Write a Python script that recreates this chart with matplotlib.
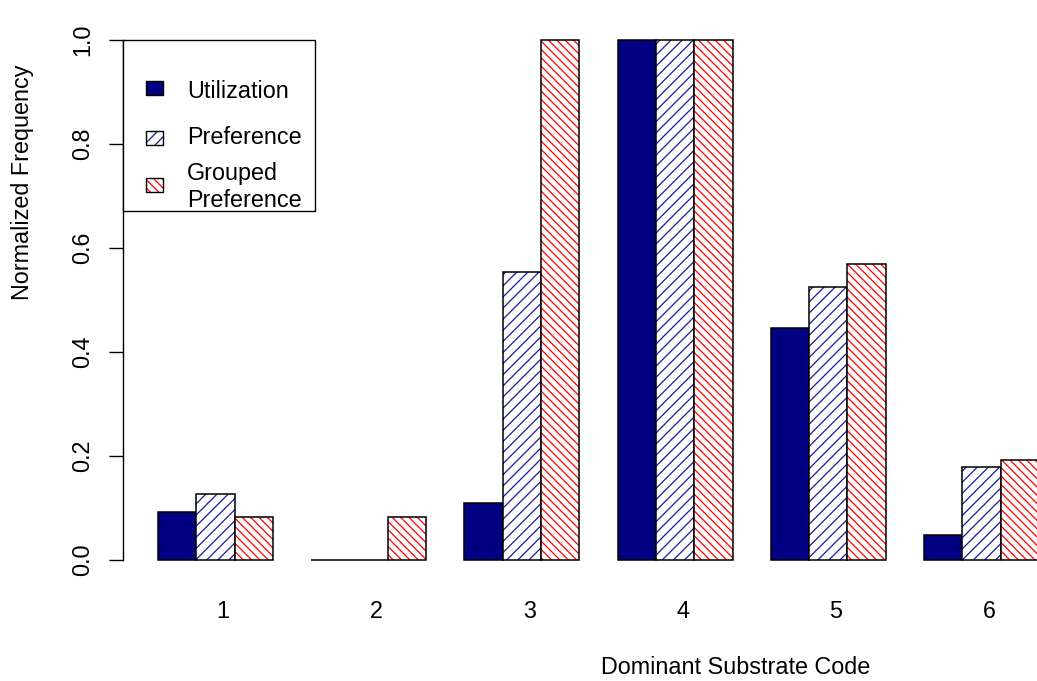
import matplotlib
matplotlib.use("Agg")
import matplotlib.pyplot as plt
from matplotlib.patches import Rectangle
import numpy as np

# ---- data ----
categories = ["1", "2", "3", "4", "5", "6"]
utilization = [0.092, 0.0, 0.110, 1.0, 0.446, 0.049]
preference = [0.127, 0.0, 0.554, 1.0, 0.525, 0.179]
grouped_preference = [0.083, 0.083, 1.0, 1.0, 0.569, 0.193]
series_names = ["Utilization", "Preference", "Grouped\nPreference"]
yticks = [0.0, 0.2, 0.4, 0.6, 0.8, 1.0]

plt.rcParams['font.family'] = ['Liberation Sans', 'DejaVu Sans']
plt.rcParams['hatch.linewidth'] = 0.9
FS = 16.8

W, H = 1037, 681
fig = plt.figure(figsize=(W / 100, H / 100), dpi=100)

# R barplot geometry: bar width 1, space=c(0,1) -> groups start at 1,5,9,...
nser = 3
lefts = np.arange(len(categories)) * (nser + 1) + 1.0
xmin, xmax = lefts[0], lefts[-1] + nser
ext = 0.04 * (xmax - xmin)
xlim = (xmin - ext, xmax + ext)
ylim = (-0.04, 1.04)

# axes placement in pixels (plot region extends past right edge, as in the reference)
px_left = 122.8
px_per_unit = 38.3
px_right = px_left + (xlim[1] - xlim[0]) * px_per_unit
py_zero, py_one = 560.0, 40.0
ppu_y = py_zero - py_one
py_bottom = py_zero + 0.04 * ppu_y
py_top = py_one - 0.04 * ppu_y
ax = fig.add_axes([px_left / W, 1 - py_bottom / H,
                   (px_right - px_left) / W, (py_bottom - py_top) / H])
ax.set_xlim(*xlim)
ax.set_ylim(*ylim)

navy = "#000080"
hatch_blue = "#1a1a99"
red = "#ff0000"

styles = [
    dict(color=navy, hatch=None),
    dict(color="white", hatch="///", hcolor=hatch_blue),
    dict(color="white", hatch="\\\\\\\\", hcolor=red),
]
data = [utilization, preference, grouped_preference]
for i, (vals, st) in enumerate(zip(data, styles)):
    xs = lefts + i
    if st["hatch"]:
        ax.bar(xs, vals, width=1.0, align="edge", facecolor="white",
               edgecolor=st["hcolor"], hatch=st["hatch"], linewidth=0)
        ax.bar(xs, vals, width=1.0, align="edge", fill=False,
               edgecolor="black", linewidth=1.1)
    else:
        ax.bar(xs, vals, width=1.0, align="edge", facecolor=st["color"],
               edgecolor="black", linewidth=1.1)

# axes styling (R-like: only y axis, spanning tick range)
for s in ["top", "right", "bottom"]:
    ax.spines[s].set_visible(False)
ax.spines["left"].set_bounds(0, 1)
ax.spines["left"].set_linewidth(1.0)
ax.set_yticks(yticks)
ax.set_yticklabels([f"{t:.1f}" for t in yticks], rotation=90, va="center",
                   fontsize=FS)
ax.tick_params(axis="y", length=9.8, width=1.0, pad=11)

centers = lefts + nser / 2 + 0.2
ax.set_xticks(centers)
ax.set_xticklabels(categories, fontsize=FS)
ax.tick_params(axis="x", length=0, pad=14)

# axis titles
fig.text(736 / W, 1 - 667 / H, "Dominant Substrate Code", ha="center",
         va="center", fontsize=FS)
fig.text(23 / W, 1 - 182 / H, "Normalized Frequency", ha="center",
         va="center", rotation=90, fontsize=FS)

# legend box (R style)
def fx(x):
    return x / W

def fy(y):
    return 1 - y / H

box = Rectangle((fx(123), fy(211)), fx(315) - fx(123), fy(40) - fy(211),
                transform=fig.transFigure, fill=True, facecolor="white",
                edgecolor="black", linewidth=1.0, zorder=5)
fig.patches.append(box)

key_rows = [88, 138, 185]
text_rows = [91, 138, 187]
for i, st in enumerate(styles):
    r = key_rows[i]
    x0, x1 = 146, 163
    y0, y1 = r - 7, r + 7
    if st["hatch"]:
        p = Rectangle((fx(x0), fy(y1)), fx(x1) - fx(x0), fy(y0) - fy(y1),
                      transform=fig.transFigure, facecolor="white",
                      edgecolor=st["hcolor"], hatch=st["hatch"], linewidth=0,
                      zorder=6)
        fig.patches.append(p)
        p2 = Rectangle((fx(x0), fy(y1)), fx(x1) - fx(x0), fy(y0) - fy(y1),
                       transform=fig.transFigure, fill=False,
                       edgecolor="black", linewidth=1.0, zorder=7)
        fig.patches.append(p2)
    else:
        p = Rectangle((fx(x0), fy(y1)), fx(x1) - fx(x0), fy(y0) - fy(y1),
                      transform=fig.transFigure, facecolor=st["color"],
                      edgecolor="black", linewidth=1.0, zorder=6)
        fig.patches.append(p)
    fig.text(fx(187), fy(text_rows[i]), series_names[i], ha="left",
             va="center", fontsize=FS, linespacing=1.2, zorder=8)

fig.savefig("out.png", dpi=100)
